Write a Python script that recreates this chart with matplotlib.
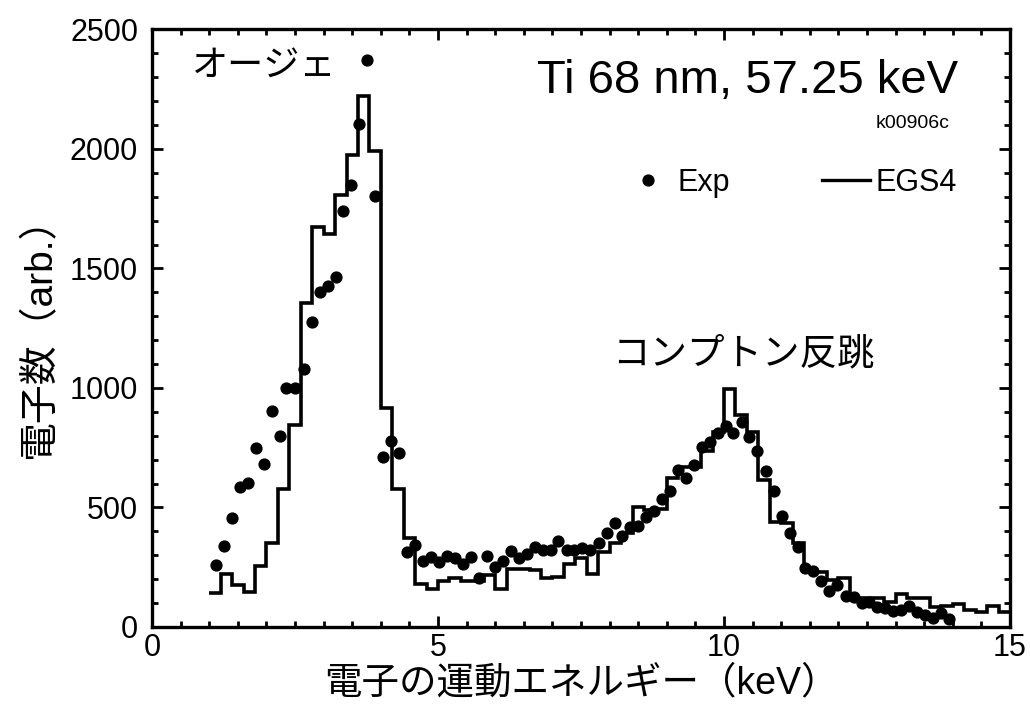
import matplotlib
matplotlib.use("Agg")
import matplotlib.pyplot as plt
from matplotlib.lines import Line2D
from matplotlib.ticker import MultipleLocator

LATIN = ["Liberation Sans", "Noto Sans CJK JP", "DejaVu Sans"]
plt.rcParams["font.family"] = LATIN

# measured points (Exp)
exp_energy = [1.11, 1.25, 1.39, 1.53, 1.68, 1.81, 1.95, 2.09, 2.23, 2.35,
              2.50, 2.65, 2.79, 2.93, 3.07, 3.21, 3.33, 3.48, 3.62, 3.76,
              3.90, 4.04, 4.18, 4.32, 4.46, 4.60, 4.74, 4.88, 5.02, 5.16,
              5.29, 5.43, 5.57, 5.71, 5.85, 5.99, 6.13, 6.27, 6.41, 6.55,
              6.69, 6.83, 6.97, 7.10, 7.25, 7.38, 7.52, 7.66, 7.81, 7.95,
              8.09, 8.22, 8.36, 8.50, 8.64, 8.78, 8.92, 9.06, 9.19, 9.34,
              9.47, 9.61, 9.76, 9.89, 10.03, 10.16, 10.31, 10.44, 10.58, 10.73,
              10.87, 11.01, 11.15, 11.29, 11.42, 11.56, 11.70, 11.84, 11.98, 12.13,
              12.27, 12.41, 12.53, 12.67, 12.81, 12.95, 13.10, 13.24, 13.37, 13.51,
              13.65, 13.80, 13.93]
exp_counts = [259, 339, 457, 587, 604, 750, 681, 904, 799, 999,
              1001, 1078, 1277, 1403, 1427, 1464, 1742, 1848, 2103, 2371,
              1805, 711, 778, 727, 314, 341, 276, 293, 272, 296,
              287, 264, 291, 207, 297, 252, 276, 316, 288, 306,
              334, 323, 323, 359, 322, 322, 330, 323, 350, 393,
              436, 380, 418, 423, 460, 484, 537, 567, 658, 622,
              677, 752, 774, 813, 842, 813, 859, 796, 736, 652,
              569, 465, 392, 333, 245, 235, 192, 152, 176, 130,
              124, 99, 106, 83, 80, 67, 69, 88, 64, 51,
              38, 57, 32]

# EGS4 simulation histogram
egs_edges = [1.0, 1.2, 1.4, 1.6, 1.8, 2.0, 2.2, 2.4, 2.6, 2.8,
             3.0, 3.2, 3.4, 3.6, 3.8, 4.0, 4.2, 4.4, 4.6, 4.8,
             5.0, 5.2, 5.4, 5.6, 5.8, 6.0, 6.2, 6.4, 6.6, 6.8,
             7.0, 7.2, 7.4, 7.6, 7.8, 8.0, 8.2, 8.4, 8.6, 8.8,
             9.0, 9.2, 9.4, 9.6, 9.8, 10.0, 10.2, 10.4, 10.6, 10.8,
             11.0, 11.2, 11.4, 11.6, 11.8, 12.0, 12.2, 12.4, 12.6, 12.8,
             13.0, 13.2, 13.4, 13.6, 13.8, 14.0, 14.2, 14.4, 14.6, 14.8,
             15.0]
egs_counts = [141, 222, 176, 148, 255, 350, 577, 845, 1357, 1675,
              1644, 1807, 1975, 2222, 1993, 917, 577, 371, 180, 159,
              194, 205, 194, 194, 217, 157, 241, 241, 238, 205,
              210, 264, 287, 220, 313, 352, 392, 503, 490, 494,
              624, 668, 668, 738, 817, 994, 885, 815, 617, 440,
              434, 350, 231, 231, 196, 206, 122, 122, 120, 103,
              136, 120, 120, 84, 88, 98, 73, 63, 87, 63]

fig = plt.figure(figsize=(10.3, 7.04), dpi=100)
ax = fig.add_axes([0.1476, 0.1094, 0.8330, 0.8487])

ax.stairs(egs_counts, egs_edges, baseline=None, color="black", linewidth=2.6)
ax.plot(exp_energy, exp_counts, "o", color="black", markersize=7.8, linestyle="none")

ax.set_xlim(0, 15)
ax.set_ylim(0, 2500)
ax.xaxis.set_major_locator(MultipleLocator(5))
ax.xaxis.set_minor_locator(MultipleLocator(0.5))
ax.yaxis.set_major_locator(MultipleLocator(500))
ax.yaxis.set_minor_locator(MultipleLocator(100))
ax.tick_params(which="both", direction="in", top=True, right=True, width=2)
ax.tick_params(which="major", length=8, labelsize=22)
ax.tick_params(axis="x", which="major", pad=4)
ax.tick_params(axis="y", which="major", pad=10)
ax.tick_params(which="minor", length=4.5)
for sp in ax.spines.values():
    sp.set_linewidth(2.4)

ax.set_xlabel("電子の運動エネルギー（keV）", fontsize=27, labelpad=2, family=LATIN)
ax.set_ylabel("電子数（arb.）", fontsize=28, labelpad=8, family=LATIN)

ax.text(0.046, 0.94, "オージェ", transform=ax.transAxes, fontsize=26,
        va="center", ha="left", family=["Noto Sans CJK JP"])
ax.text(0.536, 0.457, "コンプトン反跳", transform=ax.transAxes, fontsize=27,
        va="center", ha="left", family=["Noto Sans CJK JP"])
ax.text(0.939, 0.894, "Ti 68 nm, 57.25 keV", transform=ax.transAxes,
        fontsize=34, ha="right", va="baseline")
ax.text(0.930, 0.835, "k00906c", transform=ax.transAxes,
        fontsize=14, ha="right", va="baseline")

handles = [Line2D([], [], marker="o", color="black", linestyle="none", markersize=7.8),
           Line2D([], [], color="black", linewidth=2.4)]
ax.legend(handles, ["Exp", "EGS4"], ncol=2, loc="center left",
          bbox_to_anchor=(0.55, 0.743), frameon=False, fontsize=22,
          handlelength=1.6, handletextpad=0.15, columnspacing=3.0,
          borderpad=0, borderaxespad=0)

fig.savefig("out.png", dpi=100)
